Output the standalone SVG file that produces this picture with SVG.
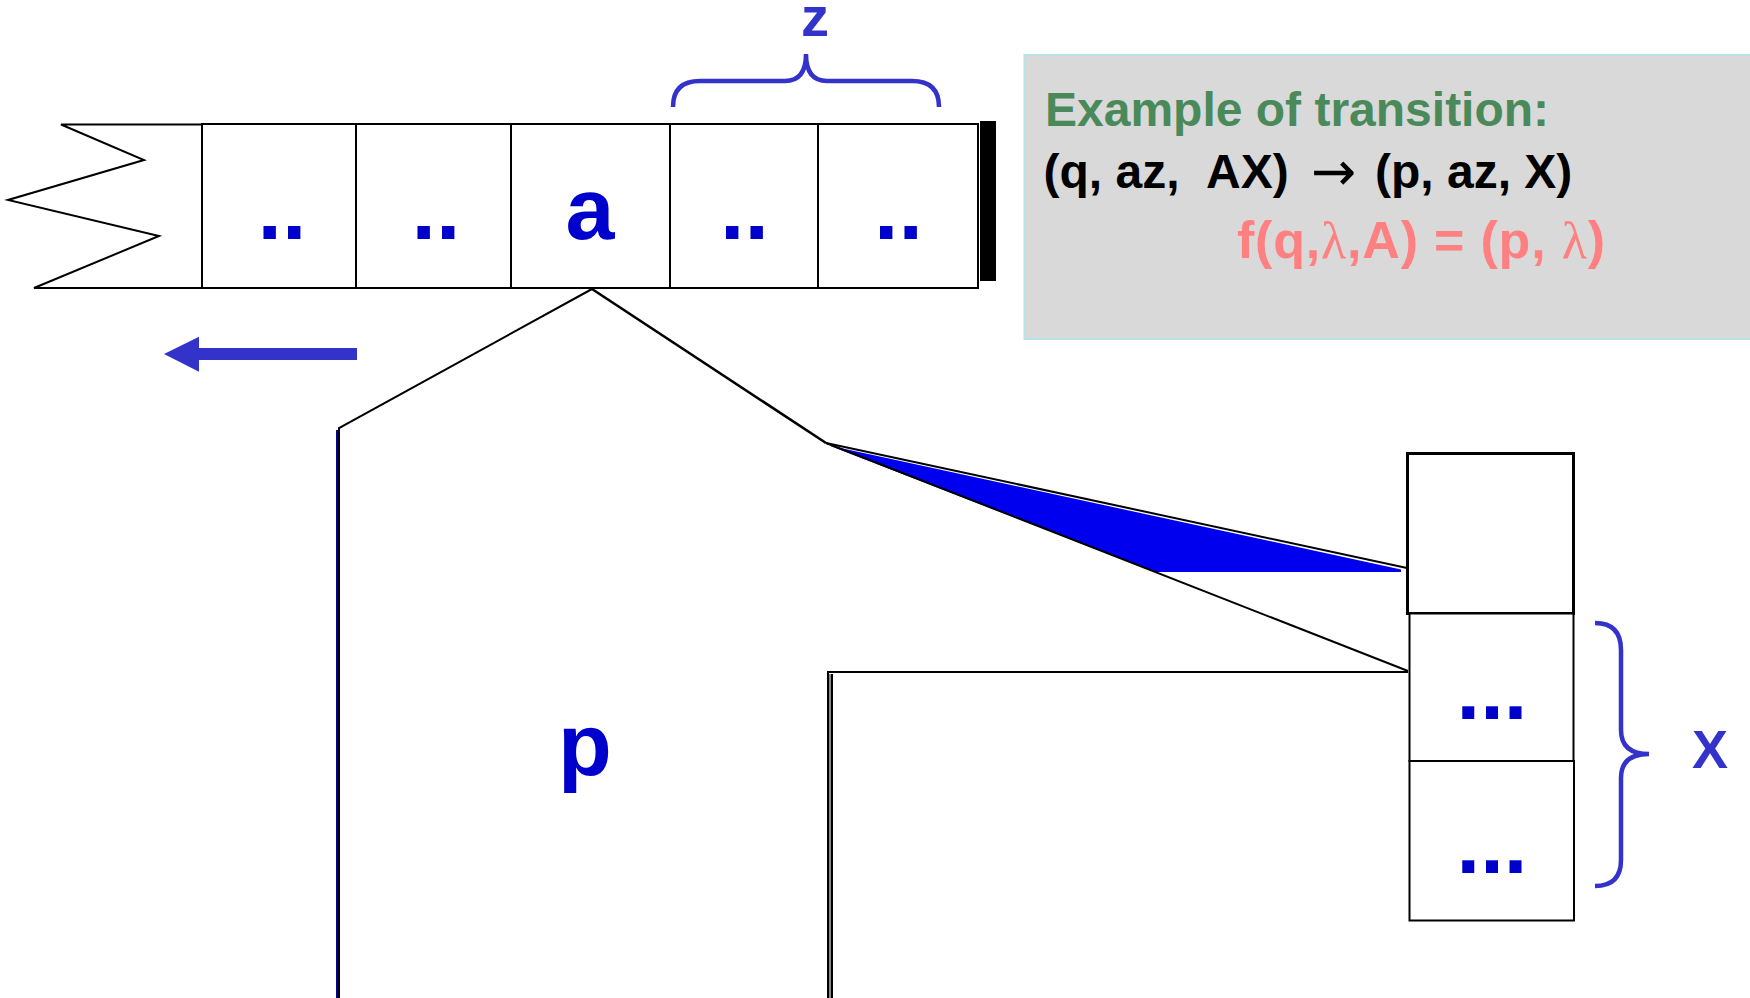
<svg xmlns="http://www.w3.org/2000/svg" width="1750" height="998" viewBox="0 0 1750 998">
<style>
.cell{fill:#fff;stroke:#000;stroke-width:2}
.sym{font-family:"Liberation Sans",Arial,sans-serif;font-weight:bold;fill:#0000CC}
.lbl{font-family:"Liberation Sans",Arial,sans-serif;font-weight:bold;fill:#3333CC}
.brace{fill:none;stroke:#3333CC;stroke-width:4.5;stroke-linecap:butt}
.ln{fill:none;stroke:#000;stroke-width:2}
.tx{font-family:"Liberation Sans",Arial,sans-serif;font-weight:bold}
</style>
<rect width="1750" height="998" fill="#fff"/>

<g id="tape">
  <polyline class="ln" points="202,124.5 61,124.5 144,160 8,200 159,236 34,288 202,288"/>
  <g id="cell1"><rect class="cell" x="202" y="124" width="154" height="164"/><text class="sym" x="282" y="239" font-size="88" text-anchor="middle">..</text></g>
  <g id="cell2"><rect class="cell" x="356" y="124" width="155" height="164"/><text class="sym" x="436" y="239" font-size="88" text-anchor="middle">..</text></g>
  <g id="cell3"><rect class="cell" x="511" y="124" width="159" height="164"/><text class="sym" x="590" y="239" font-size="88" text-anchor="middle">a</text></g>
  <g id="cell4"><rect class="cell" x="670" y="124" width="148" height="164"/><text class="sym" x="744.5" y="239" font-size="88" text-anchor="middle">..</text></g>
  <g id="cell5"><rect class="cell" x="818" y="124" width="160" height="164"/><text class="sym" x="898.5" y="239" font-size="88" text-anchor="middle">..</text></g>
  <rect id="tape-end" x="980" y="121" width="16" height="160" fill="#000"/>
</g>

<g id="z-brace">
  <path class="brace" d="M673,107 Q673,81 700,81 L785,81 Q806,81 806,54 Q806,81 827,81 L912,81 Q939,81 939,107"/>
  <text class="lbl" x="815" y="36" font-size="56" text-anchor="middle">z</text>
</g>

<g id="shift-arrow">
  <polygon points="164,354 199,336.7 199,348 357,348 357,360 199,360 199,371.7" fill="#3333CC"/>
</g>

<g id="connectors">
  <polygon points="829,445.5 1401,569.5 1401,572 1155,572" fill="#0000EE"/>
  <polyline class="ln" points="339,998 339,428 592,289"/>
  <line x1="337" y1="430" x2="337" y2="998" stroke="#000099" stroke-width="2"/>
  <polyline fill="none" stroke="#000" stroke-width="2.6" points="592,289 826,443"/>
  <line class="ln" x1="826" y1="443" x2="1407" y2="568"/>
  <line class="ln" x1="826" y1="443" x2="1408" y2="671"/>
  <polyline class="ln" points="828,998 828,672 1408,672"/>
  <line x1="832" y1="674" x2="832" y2="998" stroke="#000" stroke-width="2"/>
  <line x1="830" y1="674" x2="830" y2="998" stroke="#888" stroke-width="2"/>
</g>

<g id="state-p">
  <text class="sym" x="585" y="775" font-size="88" text-anchor="middle">p</text>
</g>

<g id="stack">
  <g id="stack-top"><rect x="1407.5" y="453.5" width="166" height="160" fill="#fff" stroke="#000" stroke-width="3"/></g>
  <g id="stack-mid"><rect class="cell" x="1409.5" y="613.5" width="164" height="147.5"/><text class="sym" x="1492" y="719" font-size="85" text-anchor="middle">...</text></g>
  <g id="stack-bot"><rect class="cell" x="1409.5" y="761" width="164.5" height="159.5"/><text class="sym" x="1492" y="873" font-size="85" text-anchor="middle">...</text></g>
</g>

<g id="x-brace">
  <path class="brace" d="M1595,623 Q1621,623 1621,650 L1621,730 Q1621,754 1649,754 Q1621,754 1621,778 L1621,860 Q1621,886 1595,886"/>
  <text class="lbl" x="1710" y="768" font-size="54" text-anchor="middle">X</text>
</g>

<g id="info-box">
  <rect x="1024.5" y="55" width="740" height="284" fill="#D9D9D9" stroke="#B8E2E5" stroke-width="2"/>
  <text class="tx" x="1045" y="126" font-size="48" fill="#4A8A5A">Example of transition:</text>
  <text class="tx" y="188" font-size="48" fill="#000"><tspan x="1043.5">(q, az,</tspan><tspan x="1206">AX)</tspan></text>
  <text x="1311" y="190" font-size="54" font-family="DejaVu Sans, sans-serif" fill="#000">→</text>
  <text class="tx" x="1375" y="188" font-size="48" fill="#000">(p, az, X)</text>
  <text class="tx" x="1237" y="258" font-size="52" fill="#FF8080" textLength="368" lengthAdjust="spacing">f(q,<tspan font-family="Liberation Serif, serif" font-weight="normal">λ</tspan>,A) = (p, <tspan font-family="Liberation Serif, serif" font-weight="normal">λ</tspan>)</text>
</g>
</svg>
